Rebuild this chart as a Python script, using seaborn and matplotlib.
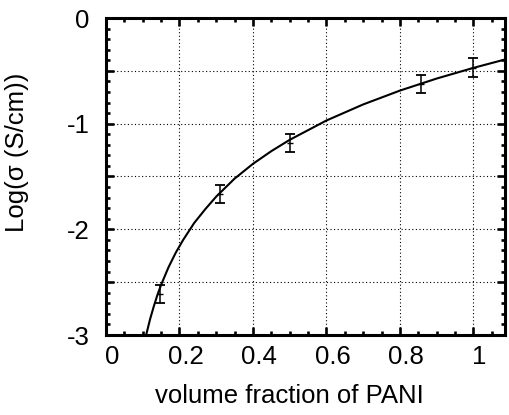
import matplotlib
matplotlib.use("Agg")
import matplotlib.pyplot as plt
import matplotlib.transforms as mtransforms
from matplotlib.ticker import MultipleLocator, FixedLocator, FixedFormatter
import pandas as pd
import seaborn as sns

# measured points (volume fraction, log conductivity, error)
frac = [0.147, 0.310, 0.500, 0.857, 0.998]
logsig = [-2.61, -1.668, -1.184, -0.622, -0.470]
err = [0.085, 0.085, 0.085, 0.085, 0.087]

# fitted curve
fit_x = [0.100, 0.105, 0.110, 0.120, 0.130, 0.140, 0.150, 0.170, 0.190, 0.210,
         0.240, 0.270, 0.300, 0.350, 0.400, 0.450, 0.500, 0.600, 0.700, 0.800,
         0.900, 1.000, 1.090]
fit_y = [-3.16, -3.07, -2.99, -2.85, -2.73, -2.62, -2.525, -2.36, -2.22, -2.10,
         -1.94, -1.81, -1.69, -1.52, -1.38, -1.26, -1.153, -0.970, -0.818, -0.687,
         -0.573, -0.472, -0.389]

xticks = [0, 0.2, 0.4, 0.6, 0.8, 1.0]
xticklabels = ["0", "0.2", "0.4", "0.6", "0.8", "1"]
yticks = [-3, -2.5, -2, -1.5, -1, -0.5, 0]
yticklabels = ["-3", "", "-2", "", "-1", "", "0"]

sns.set_style("white")
plt.rcParams["font.family"] = ["Liberation Sans", "DejaVu Sans"]

fig = plt.figure(figsize=(5.09, 4.15), dpi=100)
ax = fig.add_axes([106 / 509, 1 - 335 / 415, 399 / 509, 317 / 415])

fit_df = pd.DataFrame({"x": fit_x, "y": fit_y})
sns.lineplot(data=fit_df, x="x", y="y", ax=ax, color="black", linewidth=1.5,
             sort=False, zorder=3)
ax.errorbar(frac, logsig, yerr=err, fmt="_", color="black", markersize=5,
            elinewidth=1.1, capsize=3.3, capthick=1.3, zorder=4)

ax.set_xlim(0, 1.086)
ax.set_ylim(-3, 0)

ax.xaxis.set_major_locator(FixedLocator(xticks))
ax.xaxis.set_major_formatter(FixedFormatter(xticklabels))
ax.xaxis.set_minor_locator(MultipleLocator(0.05))
ax.yaxis.set_major_locator(FixedLocator(yticks))
ax.yaxis.set_major_formatter(FixedFormatter(yticklabels))
ax.yaxis.set_minor_locator(MultipleLocator(0.1))

ax.grid(True, which="major", color="black", linestyle=(0, (1, 2.2)), linewidth=0.8)
ax.set_axisbelow(True)

for s in ax.spines.values():
    s.set_visible(True)
    s.set_color("black")
    s.set_linewidth(2.2)

ax.tick_params(which="both", direction="in", top=True, right=True, bottom=True,
               left=True, color="black", labelsize=18.5, labelcolor="black")
ax.tick_params(which="major", length=6, width=1.9)
ax.tick_params(which="minor", length=3.2, width=1.9)
ax.tick_params(axis="x", which="major", pad=7)
ax.tick_params(axis="y", which="major", pad=12)

ax.set_xlabel("volume fraction of PANI", fontsize=18.5, color="black")
ax.set_ylabel("Log(σ (S/cm))", fontsize=18.5, color="black")
ax.xaxis.set_label_coords((289 - 106) / 399, (335 - 384) / 317)
ax.yaxis.set_label_coords((29 - 106) / 399, (335 - 152) / 317)

offset = mtransforms.ScaledTranslation(6 / 100, 0, fig.dpi_scale_trans)
for lbl in ax.get_xticklabels():
    lbl.set_transform(lbl.get_transform() + offset)

fig.savefig("out.png", dpi=100, facecolor="white")
